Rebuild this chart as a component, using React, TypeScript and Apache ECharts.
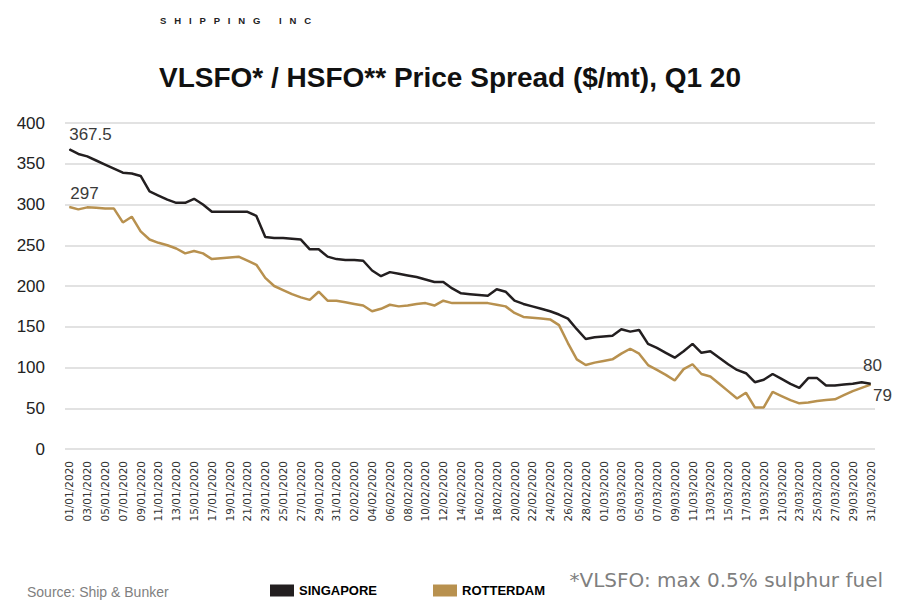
import React, { useEffect, useRef } from "react";
import * as echarts from "echarts";

// Daily dates, Q1 2020 (01/01/2020 .. 31/03/2020)
const monthLengths: [string, number][] = [
  ["01", 31],
  ["02", 29],
  ["03", 31],
];
const dates: string[] = monthLengths.flatMap(([mm, n]) =>
  Array.from({ length: n }, (_, d) => `${String(d + 1).padStart(2, "0")}/${mm}/2020`)
);

// VLSFO / HSFO spread, $/mt
const singapore: number[] = [
  367.5, 362, 359, 354, 349, 344, 339, 338, 335, 316,
  311, 306, 302, 302, 307, 300, 291, 291, 291, 291,
  291, 286, 260, 259, 259, 258, 257, 245, 245, 236,
  233, 232, 232, 231, 219, 212, 217, 215, 213, 211,
  208, 205, 205, 197, 191, 190, 189, 188, 196, 193,
  182, 178, 175, 172, 169, 165, 160, 147, 135, 137,
  138, 139, 147, 144, 146, 129, 124, 118, 112, 120,
  129, 118, 120, 112, 104, 97, 93, 82, 85, 92,
  86, 80, 75, 87, 87, 78, 78, 79, 80, 82,
  80,
];
const rotterdam: number[] = [
  297, 294, 296.5, 296, 295, 295, 278, 285, 267, 257,
  253, 250, 246, 240, 243, 240, 233, 234, 235, 236,
  231, 226, 210, 200, 195, 190, 186, 183, 193, 182,
  182, 180, 178, 176, 169, 172, 177, 175, 176, 178,
  179, 176, 182, 179, 179, 179, 179, 179, 177, 175,
  167, 162, 161, 160, 159, 152, 130, 110, 103, 106,
  108, 110, 117, 123, 117, 103, 97, 91, 84, 98,
  104, 92, 89, 80, 71, 62, 69, 51, 51, 70,
  65, 60, 56, 57, 59, 60, 61, 66, 71, 75,
  79,
];

const yTicks = { min: 0, max: 400, interval: 50 };

const BLACK = "#231f20";
const GOLD = "#b8914f";
const LABEL_FONT = "'Liberation Sans', Arial, sans-serif";

// Only the first and last points carry a value label
function withEndLabels(
  values: number[],
  first: Record<string, unknown>,
  last: Record<string, unknown>
) {
  const lastIdx = values.length - 1;
  const style = {
    show: true,
    fontFamily: LABEL_FONT,
    fontSize: 17,
    color: "#3a3a3a",
  };
  return values.map((v, i) => {
    if (i === 0) return { value: v, label: { ...style, ...first } };
    if (i === lastIdx) return { value: v, label: { ...style, ...last } };
    return { value: v, label: { show: false } };
  });
}

function lineSeries(name: string, color: string, data: any[], z: number) {
  return {
    name,
    type: "line",
    symbol: "circle",
    symbolSize: 1,
    showSymbol: true,
    showAllSymbol: true,
    color,
    itemStyle: { color },
    lineStyle: { color, width: 2.5 },
    emphasis: { disabled: true },
    data,
    z,
  };
}

export default function App() {
  const ref = useRef<HTMLDivElement>(null);

  useEffect(() => {
    if (!ref.current) return;
    const chart = echarts.init(ref.current, null, { renderer: "svg" });
    chart.setOption({
      animation: false,
      backgroundColor: "#ffffff",
      title: {
        text: "VLSFO* / HSFO** Price Spread ($/mt), Q1 20",
        left: "center",
        top: 58,
        textStyle: {
          fontFamily: LABEL_FONT,
          fontWeight: "bold",
          fontSize: 28,
          color: "#111111",
        },
      },
      legend: {
        top: 579,
        left: 265,
        itemGap: 56,
        itemWidth: 24,
        itemHeight: 12,
        icon: "rect",
        textStyle: {
          fontFamily: LABEL_FONT,
          fontWeight: "bold",
          fontSize: 13,
          color: "#000000",
        },
        data: ["SINGAPORE", "ROTTERDAM"],
      },
      grid: { left: 65, right: 25, top: 123, bottom: 151, containLabel: false },
      xAxis: {
        type: "category",
        data: dates,
        boundaryGap: true,
        axisLine: { show: false },
        axisTick: { show: false },
        axisLabel: {
          rotate: 90,
          interval: 1,
          margin: 12,
          fontFamily: "'DejaVu Sans', sans-serif",
          fontSize: 10.5,
          color: "#333333",
        },
      },
      yAxis: {
        type: "value",
        ...yTicks,
        axisLine: { show: false },
        axisTick: { show: false },
        axisLabel: {
          margin: 20,
          fontFamily: LABEL_FONT,
          fontSize: 17,
          color: "#222222",
        },
        splitLine: { lineStyle: { color: "#d9d9d9", width: 1.5 } },
      },
      series: [
        lineSeries(
          "SINGAPORE",
          BLACK,
          withEndLabels(
            singapore,
            { position: "top", distance: 5, offset: [21, -1] },
            { position: "top", distance: 9, offset: [2, 0] }
          ),
          3
        ),
        lineSeries(
          "ROTTERDAM",
          GOLD,
          withEndLabels(
            rotterdam,
            { position: "top", distance: 5, offset: [15, 1] },
            { position: "bottom", distance: 4, offset: [12, -2] }
          ),
          2
        ),
      ],
      graphic: [
        {
          type: "text",
          left: 160,
          top: 15,
          style: {
            text: "S   H   I   P   P   I   N   G       I   N   C",
            fontFamily: LABEL_FONT,
            fontWeight: "bold",
            fontSize: 9.5,
            fill: "#222222",
          },
        },
        {
          type: "text",
          right: 17,
          top: 570,
          style: {
            text: "*VLSFO: max 0.5% sulphur fuel",
            fontFamily: "'DejaVu Sans', sans-serif",
            fontSize: 20,
            fill: "#7f7f7f",
          },
        },
        {
          type: "text",
          left: 27,
          top: 585,
          style: {
            text: "Source: Ship & Bunker",
            fontFamily: LABEL_FONT,
            fontSize: 14,
            fill: "#7f7f7f",
          },
        },
      ],
    });
    return () => chart.dispose();
  }, []);

  return (
    <div
      ref={ref}
      style={{ position: "absolute", left: 0, top: 0, width: 900, height: 600 }}
    />
  );
}
